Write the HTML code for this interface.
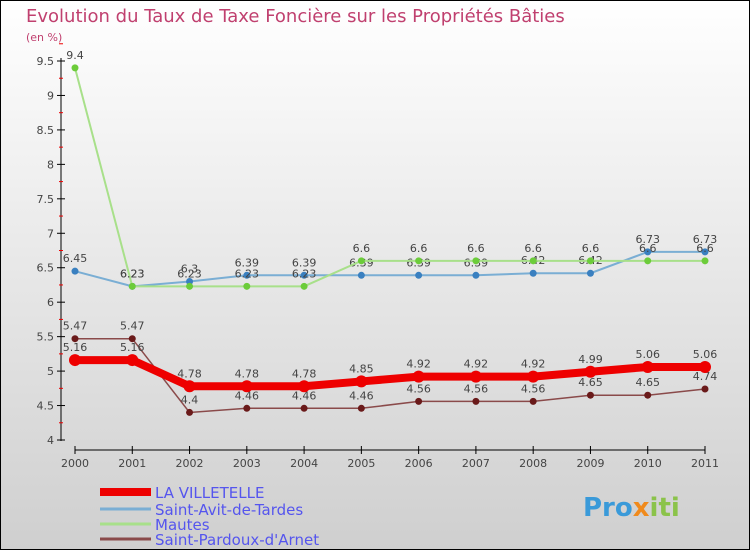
<!DOCTYPE html>
<html><head><meta charset="utf-8"><style>
body{margin:0;}
svg{display:block;font-family:"DejaVu Sans","Liberation Sans",sans-serif;}
</style></head><body>
<svg width="750" height="550" viewBox="0 0 750 550">
<defs><linearGradient id="bg" x1="0" y1="0" x2="0" y2="1"><stop offset="0" stop-color="#ffffff"/><stop offset="1" stop-color="#cfcfcf"/></linearGradient></defs>
<rect x="0.5" y="0.5" width="749" height="549" fill="url(#bg)" stroke="#000"/>
<text x="26" y="22" font-size="18" fill="#c0406f">Evolution du Taux de Taxe Foncière sur les Propriétés Bâties</text>
<text x="26" y="41" font-size="11" fill="#c0406f">(en %)</text>
<g id="axes"></g>
<g id="series"></g>
<g id="legend"></g>
<text x="583" y="516" font-size="26" font-weight="bold" fill="#3a9ad9">Pro<tspan fill="#f08a1c">x</tspan><tspan fill="#8bc34a">iti</tspan></text>
</svg>
<script>
const years=["2000","2001","2002","2003","2004","2005","2006","2007","2008","2009","2010","2011"];
const villetelle=[5.16,5.16,4.78,4.78,4.78,4.85,4.92,4.92,4.92,4.99,5.06,5.06];
const saintAvit=[6.45,6.23,6.3,6.39,6.39,6.39,6.39,6.39,6.42,6.42,6.73,6.73];
const mautes=[9.4,6.23,6.23,6.23,6.23,6.6,6.6,6.6,6.6,6.6,6.6,6.6];
const pardoux=[5.47,5.47,4.4,4.46,4.46,4.46,4.56,4.56,4.56,4.65,4.65,4.74];
const yTicks=[4,4.5,5,5.5,6,6.5,7,7.5,8,8.5,9,9.5];
const NS="http://www.w3.org/2000/svg";
const x=i=>75+i*(630/11);
const y=v=>440-(v-4)*(379/5.5);
function mk(t,a,p){const e=document.createElementNS(NS,t);for(const k in a)e.setAttribute(k,a[k]);p.appendChild(e);return e;}
const ax=document.getElementById('axes');
let l=mk('line',{x1:61,y1:58,x2:61,y2:441,stroke:'#000'},ax);

yTicks.forEach(v=>{mk('line',{x1:57,y1:y(v),x2:65,y2:y(v),stroke:'#000'},ax);
 mk('line',{x1:59,y1:y(v+0.25),x2:63,y2:y(v+0.25),stroke:'#e00'},ax);
 const t=mk('text',{x:54,y:y(v)+4,'font-size':11,fill:'#444','text-anchor':'end'},ax);t.textContent=String(v);
 });
l=mk('line',{x1:75,y1:450,x2:705,y2:450,stroke:'#000'},ax);

years.forEach((yr,i)=>{mk('line',{x1:x(i),y1:446,x2:x(i),y2:454,stroke:'#000'},ax);
 const t=mk('text',{x:x(i),y:467,'font-size':11,fill:'#444','text-anchor':'middle'},ax);t.textContent=yr;
 });
const sg=document.getElementById('series');
const series=[
 {name:'saint-avit',data:saintAvit,line:'#7aaed4',w:2,dot:'#3a80c0',r:3.5},
 {name:'mautes',data:mautes,line:'#a8e08a',w:2,dot:'#6ccc3a',r:3.5},
 {name:'saint-pardoux',data:pardoux,line:'#8a4a4a',w:1.5,dot:'#6a1a1a',r:3.5},
 {name:'la-villetelle',data:villetelle,line:'#ee0000',w:8,dot:'#ee0000',r:6}];
series.forEach(s=>{
 const g=mk('g',{},sg);
 const p=mk('polyline',{points:s.data.map((v,i)=>x(i)+','+y(v)).join(' '),fill:'none',stroke:s.line,'stroke-width':s.w},g);
 
 s.data.forEach((v,i)=>{const c=mk('circle',{cx:x(i),cy:y(v),r:s.r,fill:s.dot},g);
  
  const t=mk('text',{x:x(i),y:y(v)-9,'font-size':11,fill:'#444','text-anchor':'middle'},g);
  t.textContent=String(v);});
});
const lg=document.getElementById('legend');
const leg=[['LA VILLETELLE','#ee0000',8,492],['Saint-Avit-de-Tardes','#7aaed4',3,509],['Mautes','#a8e08a',3,524],['Saint-Pardoux-d\'Arnet','#8a4a4a',3,539]];
leg.forEach(e=>{const g=mk('g',{},lg);
 mk('line',{x1:100,y1:e[3],x2:151,y2:e[3],stroke:e[1],'stroke-width':e[2]},g);
 const t=mk('text',{x:155,y:e[3]+6,'font-size':15,fill:'#5555ee'},g);t.textContent=e[0];});
</script>
</body></html>
